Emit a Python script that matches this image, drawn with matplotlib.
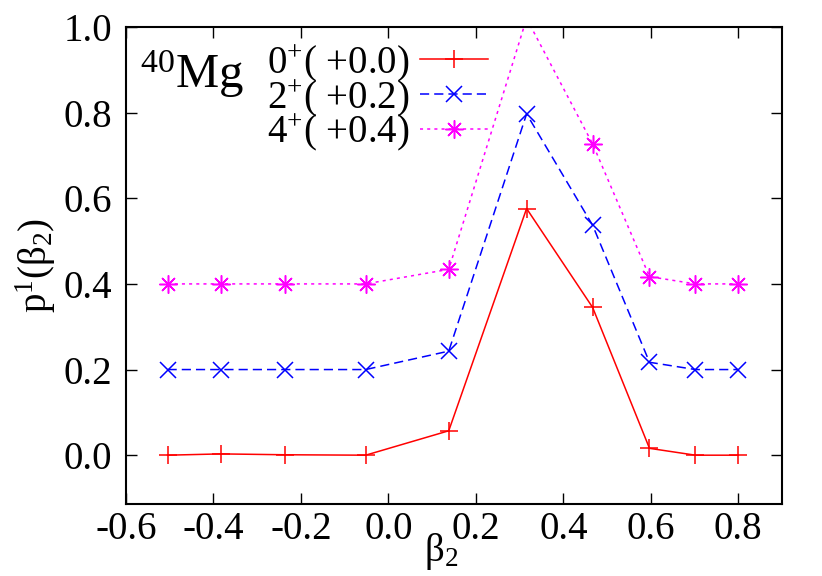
import matplotlib
matplotlib.use('Agg')
import matplotlib.pyplot as plt

plt.rcParams['font.family'] = ['Liberation Serif', 'DejaVu Serif']
plt.rcParams['mathtext.fontset'] = 'custom'
plt.rcParams['mathtext.rm'] = 'Liberation Serif'
plt.rcParams['mathtext.it'] = 'Liberation Serif'

beta2 = [-0.505, -0.383, -0.237, -0.052, 0.138, 0.316, 0.467, 0.597, 0.702, 0.800]
p_0 = [0.0, 0.003, 0.001, 0.0, 0.057, 0.576, 0.345, 0.016, 0.0, 0.0]
p_2 = [0.200, 0.200, 0.200, 0.200, 0.243, 0.797, 0.537, 0.217, 0.200, 0.200]
p_4 = [0.400, 0.400, 0.400, 0.400, 0.434, 1.020, 0.727, 0.417, 0.400, 0.400]
labels = ['0$^{+}$( +0.0)', '2$^{+}$( +0.2)', '4$^{+}$( +0.4)']
xticks = [-0.6, -0.4, -0.2, 0.0, 0.2, 0.4, 0.6, 0.8]
yticks = [0.0, 0.2, 0.4, 0.6, 0.8, 1.0]

W, H = 822, 576
fig = plt.figure(figsize=(W / 100, H / 100), dpi=100)
ax = fig.add_axes([126 / W, 1 - 504 / H, (782 - 126) / W, (504 - 27) / H])

ax.plot(beta2, p_0, color='#ff0000', ls='-', lw=1.1, marker='+', ms=13, mew=1.1,
        label=labels[0])
ax.plot(beta2, p_2, color='#0000ff', ls=(0, (6, 3.3)), lw=1.1, marker='x', ms=11, mew=1.1,
        label=labels[1])
ax.plot(beta2, p_4, color='#ff00ff', ls=(0, (2, 2.7)), lw=1.1, marker=(8, 2, 0), ms=13, mew=1.1,
        label=labels[2])

ax.set_xlim(-0.6, 0.9)
ax.set_ylim(-0.114, 1.0)
ax.set_xticks(xticks)
ax.set_yticks(yticks)
ax.set_xticklabels([f'{t:.1f}' for t in xticks])
ax.set_yticklabels([f'{t:.1f}' for t in yticks])
ax.tick_params(direction='in', length=8, width=1.0, labelsize=28, top=True, right=True)
ax.tick_params(axis='x', pad=5)
ax.tick_params(axis='y', pad=10)
for s in ax.spines.values():
    s.set_linewidth(1.5)

ax.set_xlabel('β$_{2}$', fontsize=28)
ax.xaxis.set_label_coords(0.48, -(531 - 504) / (504 - 27))
ax.set_ylabel('p$^{1}$(β$_{2}$)', fontsize=28, labelpad=4)

ax.text(140 / W, 1 - 88 / H, '$^{40}$Mg', transform=fig.transFigure, fontsize=35,
        ha='left', va='baseline')

leg = fig.legend(loc='upper right', bbox_to_anchor=(488 / W, 1 - 42 / H), frameon=False,
                 fontsize=28, markerfirst=False, handlelength=1.75, labelspacing=-0.17,
                 handletextpad=0.28, borderaxespad=0, borderpad=0)

fig.savefig('out.png', dpi=100)
